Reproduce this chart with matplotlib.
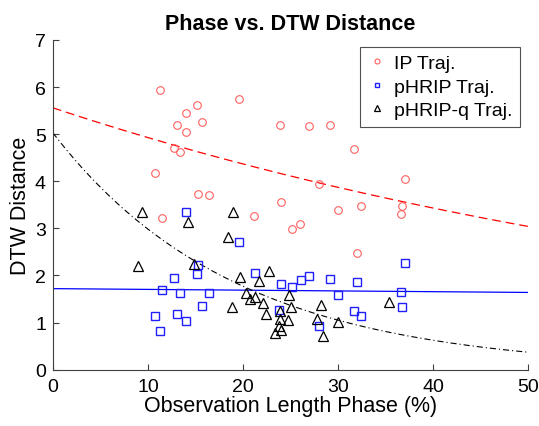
import numpy as np
import matplotlib
matplotlib.use("Agg")
import matplotlib.pyplot as plt

plt.rcParams['font.family'] = ['Liberation Sans', 'DejaVu Sans']

# observation phase (%) shared by IP and pHRIP trajectories
phase = [11.3, 15.2, 14.0, 15.7, 13.1, 14.0, 12.7, 13.4, 10.7, 15.3, 16.4, 11.5, 19.6, 23.9,
         26.9, 29.2, 31.7, 37.0, 28.0, 24.0, 36.7, 36.6, 32.4, 30.0, 21.2, 26.0, 25.2, 32.0]
ip_dtw = [5.94, 5.63, 5.44, 5.25, 5.20, 5.04, 4.71, 4.62, 4.17, 3.73, 3.71, 3.21, 5.75, 5.20,
          5.17, 5.19, 4.69, 4.04, 3.94, 3.56, 3.47, 3.31, 3.47, 3.40, 3.26, 3.09, 2.98, 2.48]

phase_b = [14.0, 19.6, 15.3, 15.2, 12.7, 11.5, 13.4, 16.4, 15.7, 10.7, 13.1, 14.0, 11.3, 21.3,
           24.0, 25.2, 26.1, 26.9, 29.2, 32.0, 30.0, 37.0, 36.6, 36.7, 31.7, 32.4, 23.8, 28.0]
phrip_dtw = [3.34, 2.72, 2.22, 2.03, 1.95, 1.69, 1.62, 1.63, 1.36, 1.14, 1.19, 1.03, 0.81, 2.05,
             1.81, 1.75, 1.91, 1.99, 1.93, 1.86, 1.58, 2.27, 1.65, 1.34, 1.25, 1.13, 1.27, 0.92]

phase_q = [9.4, 14.2, 18.9, 18.4, 9.0, 14.9, 19.7, 20.3, 18.8, 22.7, 21.7, 20.7, 21.3, 22.1,
           22.4, 24.8, 25.1, 23.9, 23.9, 24.7, 23.8, 24.0, 23.4, 28.2, 27.8, 30.0, 28.4, 35.4]
phripq_dtw = [3.35, 3.13, 3.35, 2.81, 2.20, 2.25, 1.97, 1.62, 1.34, 2.09, 1.88, 1.50, 1.55, 1.42,
              1.18, 1.59, 1.33, 1.25, 1.08, 1.05, 0.93, 0.84, 0.78, 1.37, 1.08, 1.01, 0.72, 1.44]

# exponential trend fits y = a * exp(b * x)
ip_fit = (5.56, -0.01207)
phrip_fit = (1.72, -0.00096)
phripq_fit = (5.03, -0.0522)

fig = plt.figure(figsize=(5.39, 4.27), dpi=100)
ax = fig.add_axes([0.098, 0.132, 0.882, 0.772])

xs = np.linspace(0, 50, 200)
ax.plot(xs, ip_fit[0] * np.exp(ip_fit[1] * xs), color='#ff0000', ls=(0, (7, 4)), lw=0.9)
ax.plot(xs, phrip_fit[0] * np.exp(phrip_fit[1] * xs), color='#0000ff', lw=0.9)
ax.plot(xs, phripq_fit[0] * np.exp(phripq_fit[1] * xs), color='black',
        ls=(0, (5.5, 2.7, 1, 2.7)), lw=0.8)

ax.plot(phase, ip_dtw, 'o', ls='none', mfc='none', mec='#ff6060', ms=5.5, mew=0.8, label='IP Traj.')
ax.plot(phase_b, phrip_dtw, 's', ls='none', mfc='none', mec='#2020ff', ms=5.5, mew=1.0, label='pHRIP Traj.')
ax.plot(phase_q, phripq_dtw, '^', ls='none', mfc='none', mec='black', ms=6.5, mew=0.9, label='pHRIP-q Traj.')

ax.set_xlim(0, 50)
ax.set_ylim(0, 7)
ax.set_xticks([0, 10, 20, 30, 40, 50])
ax.set_yticks(range(0, 8))
ax.spines['top'].set_visible(False)
ax.spines['right'].set_visible(False)
for s in ('left', 'bottom'):
    ax.spines[s].set_color('#404040')
    ax.spines[s].set_linewidth(0.8)
ax.tick_params(direction='in', length=4, width=0.8, color='#404040', labelsize=14)
ax.tick_params(axis='x', pad=6)
ax.tick_params(axis='y', pad=5)

ax.set_xlabel('Observation Length Phase (%)', fontsize=15.5, labelpad=0)
ax.set_ylabel('DTW Distance', fontsize=15.5, labelpad=3)
ax.set_title('Phase vs. DTW Distance', fontsize=15.5, fontweight='bold', pad=8)

leg = ax.legend(loc='upper right', fontsize=14, frameon=True, fancybox=False,
                edgecolor='#262626', handlelength=1.0, handletextpad=0.35,
                borderpad=0.4, labelspacing=0.3, borderaxespad=0,
                markerscale=0.65, bbox_to_anchor=(0.983, 0.979))
leg.get_frame().set_linewidth(0.8)

fig.savefig('out.png', dpi=100)
